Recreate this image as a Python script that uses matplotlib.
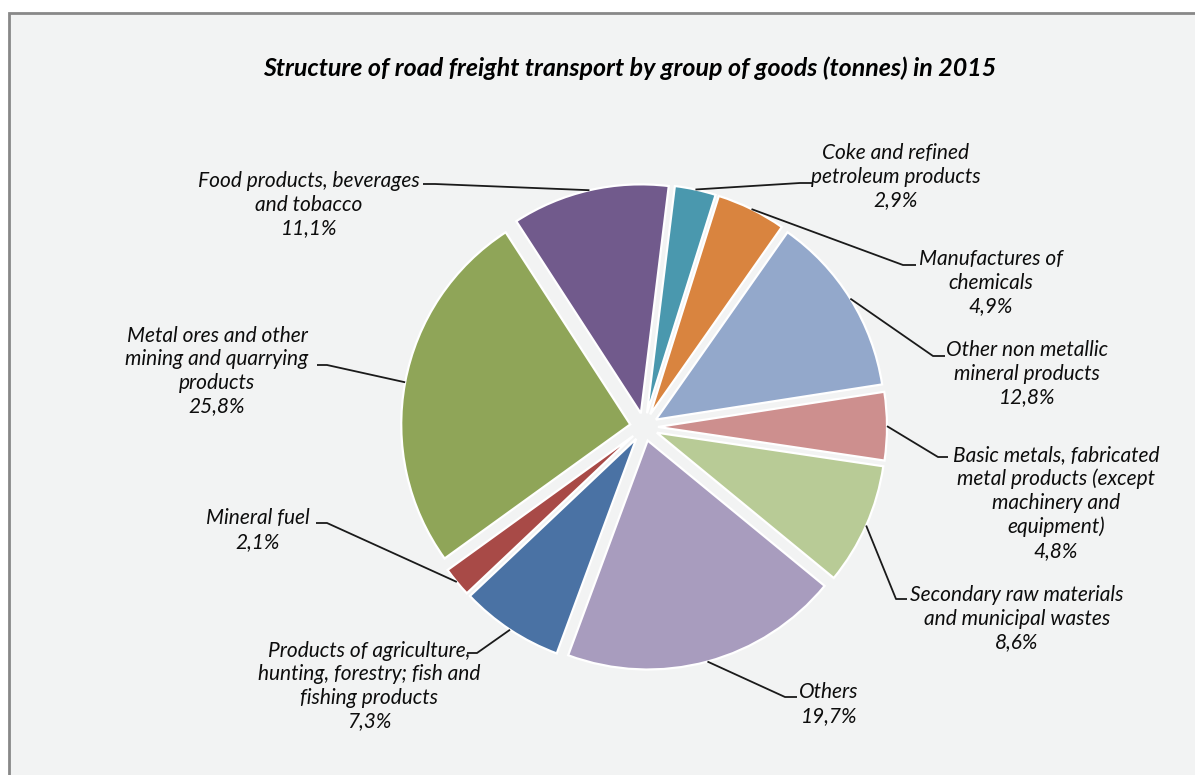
import matplotlib
matplotlib.use("Agg")
import matplotlib.pyplot as plt
from matplotlib.patches import Rectangle
import numpy as np

# data, clockwise from the top
labels = [
    "Coke and refined\npetroleum products",
    "Manufactures of\nchemicals",
    "Other non metallic\nmineral products",
    "Basic metals, fabricated\nmetal products (except\nmachinery and\nequipment)",
    "Secondary raw materials\nand municipal wastes",
    "Others",
    "Products of agriculture,\nhunting, forestry; fish and\nfishing products",
    "Mineral fuel",
    "Metal ores and other\nmining and quarrying\nproducts",
    "Food products, beverages\nand tobacco",
]
shares = [2.9, 4.9, 12.8, 4.8, 8.6, 19.7, 7.3, 2.1, 25.8, 11.1]
colors = ["#4A98AE", "#D9843F", "#93A8CB", "#CD8F8E", "#B8CB96",
          "#A89CBE", "#4A72A4", "#A84A47", "#8FA558", "#715A8C"]

# layout in pixels (y from the top)
W, H = 1195, 775
cx, cy = 644, 427
R = 229
gap = 14
label_xy = [(896, 177), (991, 283), (1027, 374), (1056, 503), (1017, 619),
            (829, 704), (369, 686), (258, 530), (217, 371), (309, 205)]
# elbow and end of each leader's horizontal stub
elbow = [(800, 183), (903, 265), (933, 356), (938, 457), (896, 599),
         (785, 697), (477, 653), (327, 523), (327, 365), (435, 184)]
stub_end = [(812, 183), (916, 265), (945, 356), (948, 457), (907, 599),
            (797, 697), (467, 653), (316, 523), (317, 365), (423, 184)]

plt.rcParams['font.family'] = ['Lato', 'DejaVu Sans']


def py(y):
    return H - y


fig = plt.figure(figsize=(W / 100, H / 100), dpi=100)
fig.patch.set_facecolor("white")
ax = fig.add_axes([0, 0, 1, 1])

ax.add_patch(Rectangle((9.5, py(1000)), 1300, 1000 - 12.5, facecolor="#F2F3F3",
                       edgecolor="#888888", linewidth=2, zorder=0))

# explode is in data units here (radius is not 1)
wedges, _ = ax.pie(shares, startangle=83, counterclock=False,
                   explode=[gap] * len(shares), radius=R, center=(cx, py(cy)),
                   colors=colors,
                   wedgeprops=dict(edgecolor="white", linewidth=1.6))

ax.set_xlim(0, W)
ax.set_ylim(0, H)
ax.set_aspect("equal")
ax.axis("off")

for w, lab, v, (lx, ly), (ex, ey), (sx, sy) in zip(wedges, labels, shares,
                                                   label_xy, elbow, stub_end):
    mid = np.deg2rad((w.theta1 + w.theta2) / 2)
    ax0 = w.center[0] + w.r * np.cos(mid)
    ay0 = w.center[1] + w.r * np.sin(mid)
    ax.plot([ax0, ex, sx], [ay0, py(ey), py(sy)], color="#1a1a1a", lw=1.3,
            solid_capstyle="butt", zorder=3)
    ax.text(lx, py(ly), f"{lab}\n{v:.1f}%".replace(".", ","), ha="center",
            va="center", fontsize=15, style="italic", linespacing=1.22,
            color="#0d0d0d")

ax.text(630, py(68),
        "Structure of road freight transport by group of goods (tonnes) in 2015",
        ha="center", va="center", fontsize=18, style="italic",
        fontweight="bold", color="black")

fig.savefig("out.png", dpi=100, facecolor="white")
